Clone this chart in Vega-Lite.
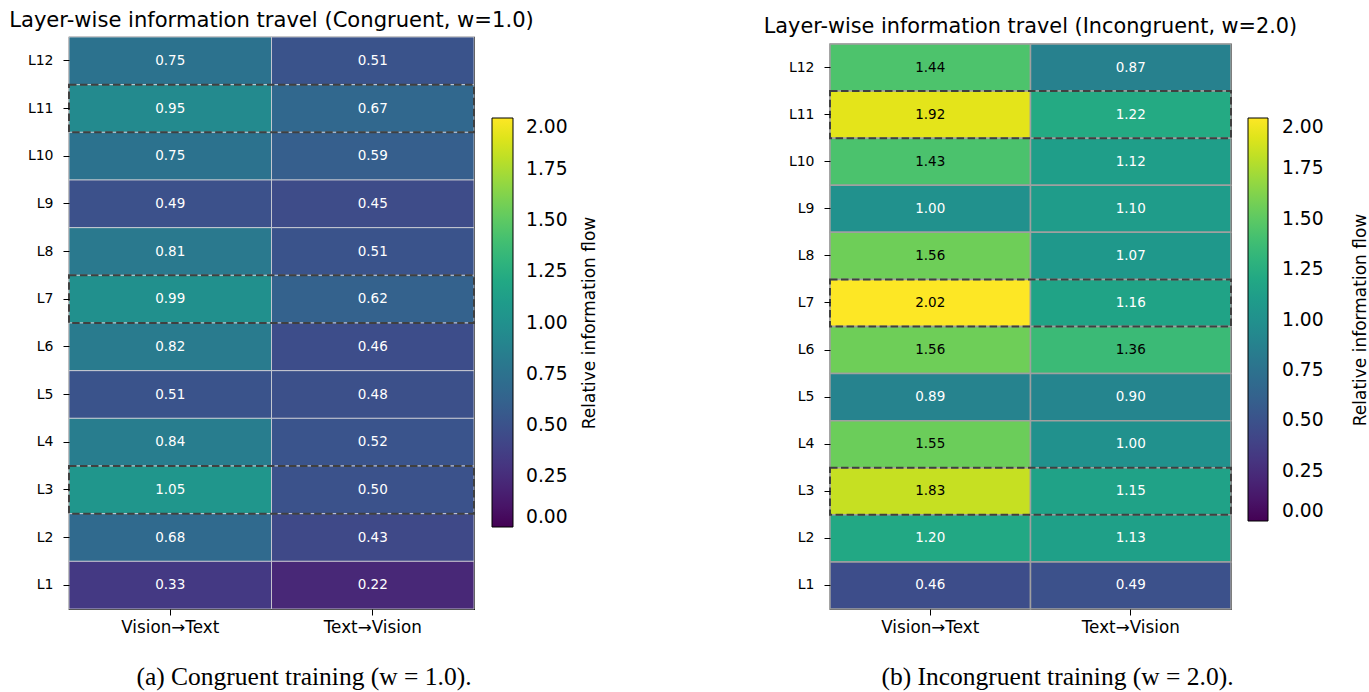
{
  "$schema": "https://vega.github.io/schema/vega-lite/v6.json",
  "padding": {"left": 8, "top": 8, "right": 0, "bottom": 0},
  "background": "white",
  "bounds": "flush",
  "spacing": 356,
  "datasets": {
    "congruent": [
      {"layer": "L12", "direction": "Vision→Text", "value": 0.75},
      {"layer": "L12", "direction": "Text→Vision", "value": 0.51},
      {"layer": "L11", "direction": "Vision→Text", "value": 0.95},
      {"layer": "L11", "direction": "Text→Vision", "value": 0.67},
      {"layer": "L10", "direction": "Vision→Text", "value": 0.75},
      {"layer": "L10", "direction": "Text→Vision", "value": 0.59},
      {"layer": "L9", "direction": "Vision→Text", "value": 0.49},
      {"layer": "L9", "direction": "Text→Vision", "value": 0.45},
      {"layer": "L8", "direction": "Vision→Text", "value": 0.81},
      {"layer": "L8", "direction": "Text→Vision", "value": 0.51},
      {"layer": "L7", "direction": "Vision→Text", "value": 0.99},
      {"layer": "L7", "direction": "Text→Vision", "value": 0.62},
      {"layer": "L6", "direction": "Vision→Text", "value": 0.82},
      {"layer": "L6", "direction": "Text→Vision", "value": 0.46},
      {"layer": "L5", "direction": "Vision→Text", "value": 0.51},
      {"layer": "L5", "direction": "Text→Vision", "value": 0.48},
      {"layer": "L4", "direction": "Vision→Text", "value": 0.84},
      {"layer": "L4", "direction": "Text→Vision", "value": 0.52},
      {"layer": "L3", "direction": "Vision→Text", "value": 1.05},
      {"layer": "L3", "direction": "Text→Vision", "value": 0.50},
      {"layer": "L2", "direction": "Vision→Text", "value": 0.68},
      {"layer": "L2", "direction": "Text→Vision", "value": 0.43},
      {"layer": "L1", "direction": "Vision→Text", "value": 0.33},
      {"layer": "L1", "direction": "Text→Vision", "value": 0.22}
    ],
    "incongruent": [
      {"layer": "L12", "direction": "Vision→Text", "value": 1.44},
      {"layer": "L12", "direction": "Text→Vision", "value": 0.87},
      {"layer": "L11", "direction": "Vision→Text", "value": 1.92},
      {"layer": "L11", "direction": "Text→Vision", "value": 1.22},
      {"layer": "L10", "direction": "Vision→Text", "value": 1.43},
      {"layer": "L10", "direction": "Text→Vision", "value": 1.12},
      {"layer": "L9", "direction": "Vision→Text", "value": 1.00},
      {"layer": "L9", "direction": "Text→Vision", "value": 1.10},
      {"layer": "L8", "direction": "Vision→Text", "value": 1.56},
      {"layer": "L8", "direction": "Text→Vision", "value": 1.07},
      {"layer": "L7", "direction": "Vision→Text", "value": 2.02},
      {"layer": "L7", "direction": "Text→Vision", "value": 1.16},
      {"layer": "L6", "direction": "Vision→Text", "value": 1.56},
      {"layer": "L6", "direction": "Text→Vision", "value": 1.36},
      {"layer": "L5", "direction": "Vision→Text", "value": 0.89},
      {"layer": "L5", "direction": "Text→Vision", "value": 0.90},
      {"layer": "L4", "direction": "Vision→Text", "value": 1.55},
      {"layer": "L4", "direction": "Text→Vision", "value": 1.00},
      {"layer": "L3", "direction": "Vision→Text", "value": 1.83},
      {"layer": "L3", "direction": "Text→Vision", "value": 1.15},
      {"layer": "L2", "direction": "Vision→Text", "value": 1.20},
      {"layer": "L2", "direction": "Text→Vision", "value": 1.13},
      {"layer": "L1", "direction": "Vision→Text", "value": 0.46},
      {"layer": "L1", "direction": "Text→Vision", "value": 0.49}
    ],
    "highlight": [
      {"layer": "L11"},
      {"layer": "L7"},
      {"layer": "L3"}
    ]
  },
  "resolve": {"scale": {"color": "independent"}, "legend": {"color": "independent"}},
  "hconcat": [
    {
      "width": 405,
      "height": 572,
      "title": {"text": "Layer-wise information travel (Congruent, w=1.0)", "fontSize": 21.1, "fontWeight": "normal", "font": "DejaVu Sans", "color": "black", "anchor": "middle", "baseline": "alphabetic", "offset": -11},
      "layer": [
        {
          "data": {"name": "congruent"},
          "mark": {"type": "rect", "stroke": "#d4d4d8", "strokeWidth": 0.8},
          "encoding": {
            "x": {"field": "direction", "type": "nominal", "sort": ["Vision→Text", "Text→Vision"],
              "axis": {"title": "(a) Congruent training (w = 1.0).", "titleFont": "Liberation Serif", "titleFontSize": 25.5, "titleFontWeight": "normal", "titleColor": "black", "titlePadding": 29, "titleX": 234.5, "labelAngle": 0, "labelFontSize": 16.8, "labelColor": "black", "tickColor": "black", "tickSize": 6, "labelPadding": 4, "domain": false}},
            "y": {"field": "layer", "type": "nominal", "sort": ["L12", "L11", "L10", "L9", "L8", "L7", "L6", "L5", "L4", "L3", "L2", "L1"],
              "axis": {"title": null, "labelFontSize": 14, "labelColor": "black", "tickColor": "black", "tickSize": 6, "labelPadding": 10, "domain": false}},
            "color": {"field": "value", "type": "quantitative",
              "scale": {"scheme": "viridis", "domain": [0, 2], "clamp": true},
              "legend": {"orient": "none", "legendX": 423, "legendY": 81, "direction": "vertical", "padding": 0, "gradientLength": 409, "gradientThickness": 21, "gradientStrokeColor": "black", "gradientStrokeWidth": 1, "values": [0, 0.25, 0.5, 0.75, 1, 1.25, 1.5, 1.75, 2], "format": ".2f", "labelFontSize": 18.7, "labelColor": "black", "labelOffset": 13, "labelBaseline": "middle", "labelOverlap": false, "title": "Relative information flow", "titleOrient": "right", "titleAnchor": "middle", "titleLimit": 600, "titleFontSize": 17, "titleFontWeight": "normal", "titleColor": "black", "titlePadding": 31,
                "encode": {"title": {"update": {"angle": {"value": 270}}}}}}
          }
        },
        {
          "data": {"name": "congruent"},
          "mark": {"type": "text", "fontSize": 13.5, "font": "DejaVu Sans"},
          "encoding": {
            "x": {"field": "direction", "type": "nominal", "sort": ["Vision→Text", "Text→Vision"]},
            "y": {"field": "layer", "type": "nominal", "sort": ["L12", "L11", "L10", "L9", "L8", "L7", "L6", "L5", "L4", "L3", "L2", "L1"]},
            "text": {"field": "value", "type": "quantitative", "format": ".2f"},
            "color": {"condition": {"test": "datum.value > 1.3", "value": "black"}, "value": "white"}
          }
        },
        {
          "data": {"name": "highlight"},
          "mark": {"type": "rect", "fill": null, "stroke": "#404040", "strokeWidth": 2, "strokeDash": [7.5, 3.5]},
          "encoding": {
            "y": {"field": "layer", "type": "nominal", "sort": ["L12", "L11", "L10", "L9", "L8", "L7", "L6", "L5", "L4", "L3", "L2", "L1"]}
          }
        }
      ]
    },
    {
      "spacing": 0,
      "bounds": "flush",
      "vconcat": [
        {
          "width": 401,
          "height": 7,
          "data": {"values": []},
          "mark": {"type": "rect", "opacity": 0},
          "encoding": {},
          "view": {"stroke": null}
        },
        {
          "width": 401,
          "height": 565,
          "title": {"text": "Layer-wise information travel (Incongruent, w=2.0)", "fontSize": 20.8, "fontWeight": "normal", "font": "DejaVu Sans", "color": "black", "anchor": "middle", "baseline": "alphabetic", "offset": -11},
          "layer": [
            {
              "data": {"name": "incongruent"},
              "mark": {"type": "rect", "stroke": "#a0a0a0", "strokeWidth": 1.5},
              "encoding": {
                "x": {"field": "direction", "type": "nominal", "sort": ["Vision→Text", "Text→Vision"],
                  "axis": {"title": "(b) Incongruent training (w = 2.0).", "titleFont": "Liberation Serif", "titleFontSize": 25.5, "titleFontWeight": "normal", "titleColor": "black", "titlePadding": 29, "titleX": 227, "labelAngle": 0, "labelFontSize": 16.8, "labelColor": "black", "tickColor": "black", "tickSize": 6, "labelPadding": 4, "domain": false}},
                "y": {"field": "layer", "type": "nominal", "sort": ["L12", "L11", "L10", "L9", "L8", "L7", "L6", "L5", "L4", "L3", "L2", "L1"],
                  "axis": {"title": null, "labelFontSize": 14, "labelColor": "black", "tickColor": "black", "tickSize": 6, "labelPadding": 10, "domain": false}},
                "color": {"field": "value", "type": "quantitative",
                  "scale": {"scheme": "viridis", "domain": [0, 2], "clamp": true},
                  "legend": {"orient": "none", "legendX": 418, "legendY": 81, "direction": "vertical", "padding": 0, "gradientLength": 403, "gradientThickness": 20, "gradientStrokeColor": "black", "gradientStrokeWidth": 1, "values": [0, 0.25, 0.5, 0.75, 1, 1.25, 1.5, 1.75, 2], "format": ".2f", "labelFontSize": 18.7, "labelColor": "black", "labelOffset": 14, "labelBaseline": "middle", "labelOverlap": false, "title": "Relative information flow", "titleOrient": "right", "titleAnchor": "middle", "titleLimit": 600, "titleFontSize": 17, "titleFontWeight": "normal", "titleColor": "black", "titlePadding": 46,
                    "encode": {"title": {"update": {"angle": {"value": 270}}}}}}
              }
            },
            {
              "data": {"name": "incongruent"},
              "mark": {"type": "text", "fontSize": 13.5, "font": "DejaVu Sans"},
              "encoding": {
                "x": {"field": "direction", "type": "nominal", "sort": ["Vision→Text", "Text→Vision"]},
                "y": {"field": "layer", "type": "nominal", "sort": ["L12", "L11", "L10", "L9", "L8", "L7", "L6", "L5", "L4", "L3", "L2", "L1"]},
                "text": {"field": "value", "type": "quantitative", "format": ".2f"},
                "color": {"condition": {"test": "datum.value > 1.3", "value": "black"}, "value": "white"}
              }
            },
            {
              "data": {"name": "highlight"},
              "mark": {"type": "rect", "fill": null, "stroke": "#404040", "strokeWidth": 2, "strokeDash": [7.5, 3.5]},
              "encoding": {
                "y": {"field": "layer", "type": "nominal", "sort": ["L12", "L11", "L10", "L9", "L8", "L7", "L6", "L5", "L4", "L3", "L2", "L1"]}
              }
            }
          ]
        }
      ]
    }
  ],
  "config": {
    "font": "DejaVu Sans",
    "view": {"stroke": "black", "strokeWidth": 1.2},
    "axis": {"labelFont": "DejaVu Sans", "tickWidth": 1},
    "legend": {"labelFont": "DejaVu Sans", "titleFont": "DejaVu Sans"}
  }
}
